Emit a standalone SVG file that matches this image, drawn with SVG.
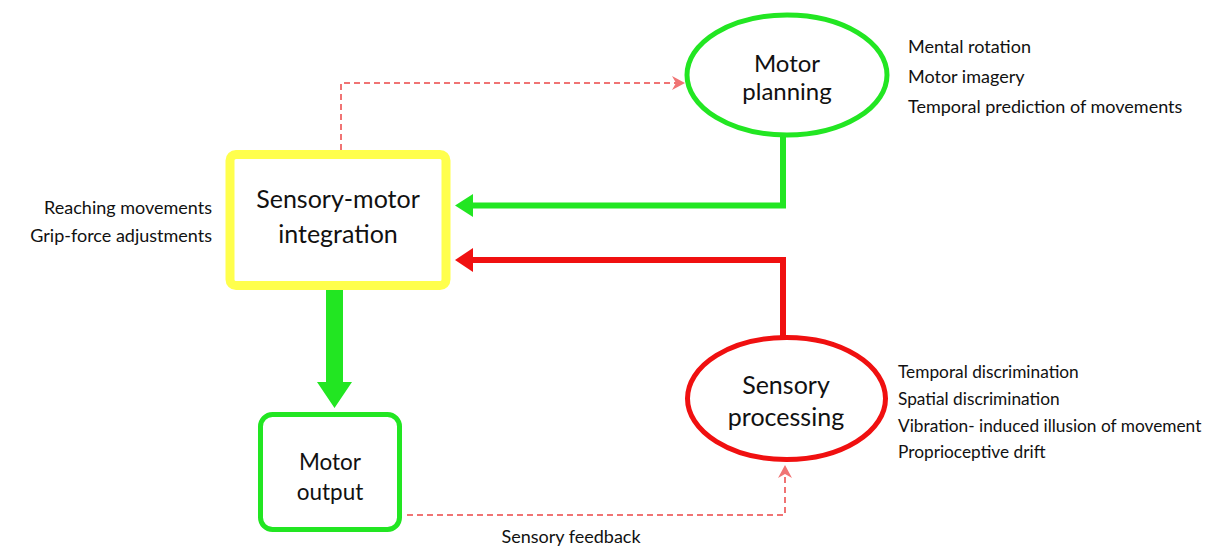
<svg xmlns="http://www.w3.org/2000/svg" width="1210" height="547" viewBox="0 0 1210 547">
<style>
  text { font-family: Lato, "Open Sans", "Liberation Sans", sans-serif; fill: #111; }
  .big { font-size: 25px; text-anchor: middle; }
  .note { font-size: 18px; }
  .note2 { font-size: 17.3px; }
  .dash { fill: none; stroke: #f07474; stroke-width: 2; stroke-dasharray: 6 4; }
  .head { fill: #f07474; }
  .gline { fill: none; stroke: #22e622; stroke-width: 6; }
  .rline { fill: none; stroke: #f01010; stroke-width: 6; }
</style>
<rect width="1210" height="547" fill="#ffffff"/>
<g id="connectors">
  <path class="dash" d="M341,150 V83 H678"/>
  <polygon class="head" points="685,83 672,76 676,83 672,90"/>
  <path class="dash" d="M407,515 H785 V472"/>
  <polygon class="head" points="785,465 778,478 785,474 792,478"/>
  <path class="gline" d="M783,137 V205.5 H470"/>
  <polygon fill="#22e622" points="455,205.5 473,194 473,217"/>
  <path class="rline" d="M783,337 V260 H470"/>
  <polygon fill="#f01010" points="455,260 473,248 473,272"/>
  <polygon fill="#22e622" points="326,290 343,290 343,382 352,382 334.5,408 317,382 326,382"/>
</g>
<g id="sensory-motor-integration">
  <rect x="230" y="154.5" width="216" height="131" rx="6" fill="#fff" stroke="#ffff4d" stroke-width="9"/>
  <text class="big" x="338" y="208">Sensory-motor</text>
  <text class="big" x="338" y="243">integration</text>
</g>
<g id="motor-planning">
  <ellipse cx="787" cy="75" rx="100" ry="60" fill="#fff" stroke="#22e622" stroke-width="5"/>
  <text class="big" x="787" y="72" style="font-size:24px">Motor</text>
  <text class="big" x="787" y="100" style="font-size:24px">planning</text>
</g>
<g id="sensory-processing">
  <ellipse cx="786.5" cy="398.5" rx="99" ry="61" fill="#fff" stroke="#f01010" stroke-width="5"/>
  <text class="big" x="786" y="394">Sensory</text>
  <text class="big" x="786" y="426">processing</text>
</g>
<g id="motor-output">
  <rect x="260.5" y="414.5" width="139" height="115" rx="12" fill="#fff" stroke="#22e622" stroke-width="5"/>
  <text class="big" x="330" y="470" style="font-size:22.5px">Motor</text>
  <text class="big" x="330" y="500" style="font-size:22.5px">output</text>
</g>
<g id="labels">
  <text class="note" x="212" y="214" text-anchor="end">Reaching movements</text>
  <text class="note" x="212" y="242" text-anchor="end">Grip-force adjustments</text>
  <text class="note" x="908" y="53">Mental rotation</text>
  <text class="note" x="908" y="83">Motor imagery</text>
  <text class="note" x="908" y="113">Temporal prediction of movements</text>
  <text class="note2" x="898" y="378">Temporal discrimination</text>
  <text class="note2" x="898" y="405">Spatial discrimination</text>
  <text class="note2" x="898" y="432">Vibration- induced illusion of movement</text>
  <text class="note2" x="898" y="458">Proprioceptive drift</text>
  <text class="note" x="571" y="543" text-anchor="middle">Sensory feedback</text>
</g>
</svg>
